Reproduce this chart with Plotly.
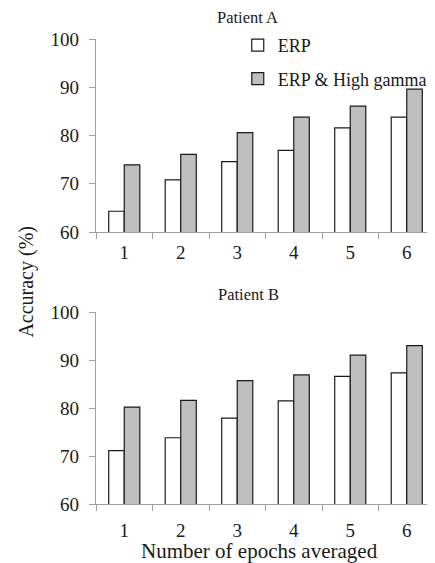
import plotly.graph_objects as go

categories = ["1", "2", "3", "4", "5", "6"]
a_erp = [64.3, 70.8, 74.6, 76.9, 81.6, 83.8]
a_hg = [73.9, 76.1, 80.6, 83.8, 86.1, 89.6]
b_erp = [71.1, 73.8, 77.9, 81.5, 86.6, 87.3]
b_hg = [80.2, 81.6, 85.7, 86.9, 91.0, 93.0]
y_ticks = [60, 70, 80, 90, 100]
series_names = ["ERP", "ERP & High gamma"]

FONT = "Liberation Serif, Times New Roman, serif"
OFF = 8  # page body margin
W, H = 435 - OFF, 563 - OFF
# layout in reference pixel coordinates
PL, PR, PT, PB = 96, 438, 39, 504
L, R, T, B = PL - OFF, 0, PT - OFF, 563 - PB
ph = PB - PT
pw = PR - PL

def dom(top_px, bot_px):
    return [(PB - bot_px) / ph, (PB - top_px) / ph]

fig = go.Figure()
line = dict(color="#1a1a1a", width=1.2)
for (erp, hg, xa, ya, show) in [(a_erp, a_hg, "x", "y", True), (b_erp, b_hg, "x2", "y2", False)]:
    fig.add_trace(go.Bar(x=categories, y=erp, name=series_names[0], marker=dict(color="white", line=line),
                         xaxis=xa, yaxis=ya, showlegend=show, legendgroup="a", base=0))
    fig.add_trace(go.Bar(x=categories, y=hg, name=series_names[1], marker=dict(color="#bfbfbf", line=line),
                         xaxis=xa, yaxis=ya, showlegend=show, legendgroup="b", base=0))

tf = dict(family=FONT, size=19, color="#1a1a1a")
axcommon_x = dict(type="category", tickson="boundaries", ticks="outside", ticklen=6, tickcolor="#a0a0a0",
                  showline=True, linecolor="#a0a0a0", linewidth=1.3, showgrid=False,
                  tickfont=tf, range=[-0.5, 5.5])
axcommon_y = dict(range=[60, 100], tickvals=y_ticks, ticks="outside", ticklen=6, tickcolor="#a0a0a0",
                  showline=True, linecolor="#a0a0a0", linewidth=1.3, showgrid=False, zeroline=False,
                  tickfont=tf, ticklabelstandoff=6)

fig.update_layout(
    width=W, height=H, margin=dict(l=L, r=R, t=T, b=B),
    paper_bgcolor="white", plot_bgcolor="white",
    barmode="group", bargap=0.45, bargroupgap=0,
    xaxis=dict(**axcommon_x, domain=[0, 1], anchor="y", ticklabelstandoff=3),
    yaxis=dict(**axcommon_y, domain=dom(39, 232), anchor="x"),
    xaxis2=dict(**axcommon_x, domain=[0, 1], anchor="y2", ticklabelstandoff=9),
    yaxis2=dict(**axcommon_y, domain=dom(312, 504), anchor="x2"),
    legend=dict(x=(239 - PL) / pw, xanchor="left", y=(PB - 27) / ph, yanchor="top",
                font=dict(family=FONT, size=18, color="#1a1a1a"), bgcolor="rgba(0,0,0,0)",
                traceorder="grouped", tracegroupgap=7, itemwidth=30),
    showlegend=True,
)

def ann(text, px, py, size, angle=0):
    fig.add_annotation(text=text, xref="paper", yref="paper", x=(px - PL) / pw, y=(PB - py) / ph,
                       xanchor="center", yanchor="middle", showarrow=False, textangle=angle,
                       font=dict(family=FONT, size=size, color="#1a1a1a"))

ann("Patient A", 249, 18, 16.5)
ann("Patient B", 250, 294, 16.5)
ann("Accuracy (%)", 25, 282, 20, -90)
ann("Number of epochs averaged", 261, 551, 21)

fig.write_html("out.html")
